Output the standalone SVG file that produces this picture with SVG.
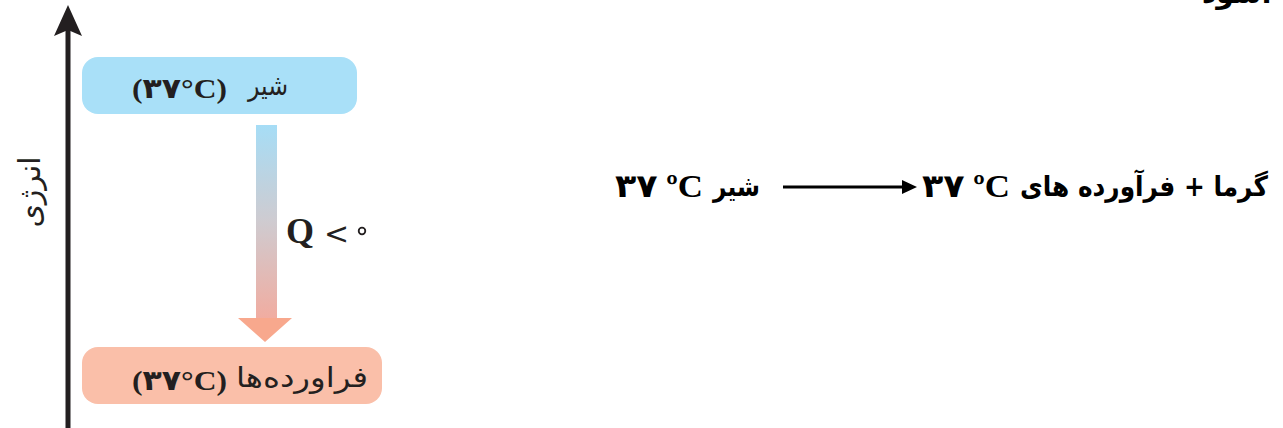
<svg xmlns="http://www.w3.org/2000/svg" width="1283" height="428" viewBox="0 0 1283 428">
<style>
.ar{font-family:"DejaVu Sans",sans-serif;fill:#231f20}
.sr{font-family:"Liberation Serif","DejaVu Sans",serif;font-weight:bold;fill:#231f20}
.eq{font-family:"DejaVu Sans",sans-serif;font-weight:bold;font-size:28px;fill:#000}
.eqs{font-family:"Liberation Serif","DejaVu Sans",serif;font-weight:bold;font-size:32px;fill:#000}
</style>
<defs>
<linearGradient id="g" x1="0" y1="0" x2="0" y2="1">
<stop offset="0" stop-color="#a6ddf6"/>
<stop offset="0.5" stop-color="#cfcbd0"/>
<stop offset="1" stop-color="#f1aca0"/>
</linearGradient>
</defs>
<text class="eq" x="1272" y="3" text-anchor="end">شود.</text>
<g id="axis">
<line x1="68" y1="30" x2="68" y2="428" stroke="#231f20" stroke-width="5"/>
<polygon points="68,5 82,36 68,30 54,36" fill="#231f20"/>
<text class="ar" font-size="30" transform="translate(40,192) rotate(-90)" text-anchor="middle">انرژی</text>
</g>
<g id="milk">
<rect x="82" y="57" width="275" height="57" rx="16" fill="#a9e0f8"/>
<text class="ar" font-size="28" x="248" y="95" textLength="40" lengthAdjust="spacingAndGlyphs">شیر</text>
<text class="sr" font-size="28" x="132" y="98" textLength="95" lengthAdjust="spacingAndGlyphs">(۳۷°C)</text>
</g>
<g id="products">
<rect x="82" y="347" width="300" height="57" rx="16" fill="#fabfa9"/>
<text class="ar" font-size="28" x="236" y="387" textLength="132" lengthAdjust="spacingAndGlyphs">فراورده‌ها</text>
<text class="sr" font-size="28" x="132" y="390" textLength="95" lengthAdjust="spacingAndGlyphs">(۳۷°C)</text>
</g>
<g id="connectors">
<rect x="256" y="125" width="21" height="194" fill="url(#g)"/>
<polygon points="238,318 292,318 265,342" fill="#f8a88d"/>
<text x="286" y="243" font-family="Liberation Serif,serif" font-size="36" font-weight="bold" fill="#231f20">Q</text>
<text x="324" y="244" font-family="DejaVu Sans,sans-serif" font-size="30" fill="#231f20">&lt;</text>
<circle cx="362" cy="231" r="3.3" fill="none" stroke="#231f20" stroke-width="1.8"/>
</g>
<g id="equation">
<text class="eqs" x="615" y="197" textLength="88" lengthAdjust="spacingAndGlyphs">۳۷ ºC</text>
<text class="eq" x="713" y="196" textLength="47" lengthAdjust="spacingAndGlyphs">شیر</text>
<line x1="783" y1="187" x2="905" y2="187" stroke="#000" stroke-width="3"/>
<polygon points="917,187 902,180 902,194" fill="#000"/>
<text class="eqs" x="922" y="197" textLength="88" lengthAdjust="spacingAndGlyphs">۳۷ ºC</text>
<text class="eq" x="1020" y="196" textLength="248" lengthAdjust="spacingAndGlyphs">گرما + فرآورده های</text>
</g>
</svg>
